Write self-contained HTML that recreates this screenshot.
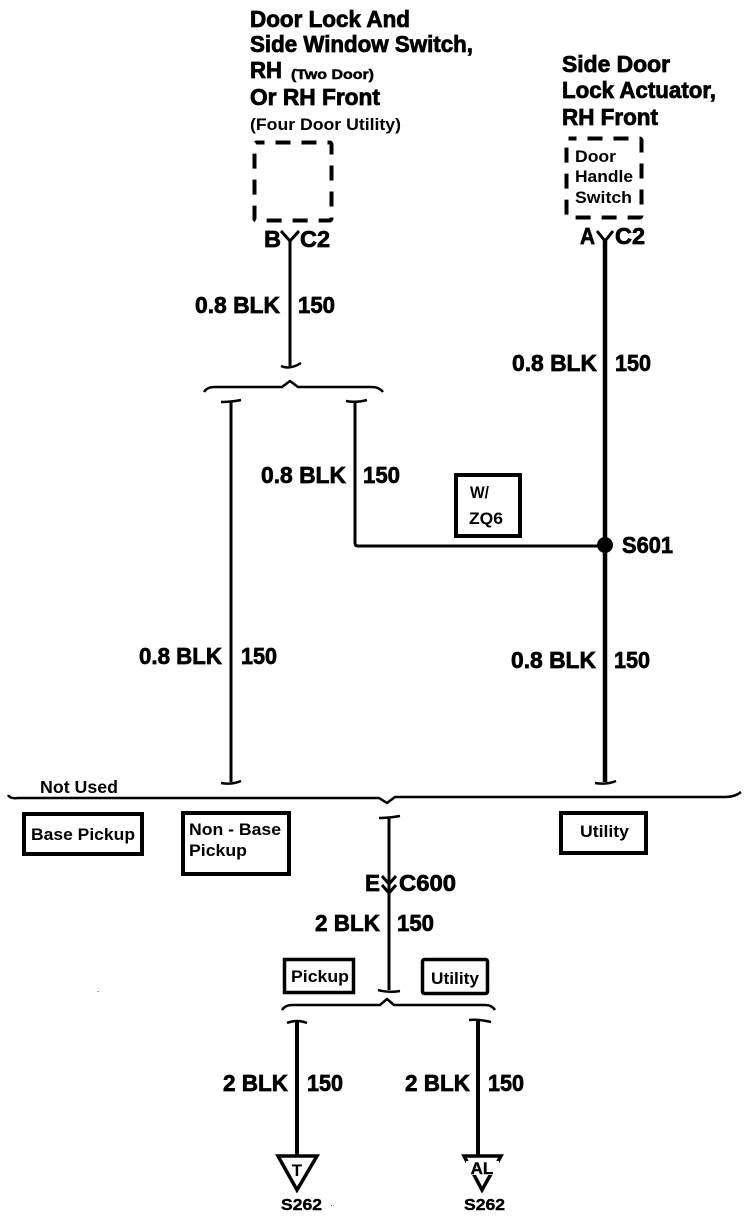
<!DOCTYPE html>
<html>
<head>
<meta charset="utf-8">
<style>
html,body{margin:0;padding:0;background:#fff;width:748px;height:1216px;overflow:hidden}
svg{display:block}
text{font-family:"Liberation Sans",sans-serif;font-weight:bold;fill:#000}
.h{font-size:23px;stroke:#000;stroke-width:.8px}
.l{font-size:23px;stroke:#000;stroke-width:.7px}
.s{font-size:16.500px}
.w{fill:none;stroke:#000;stroke-linecap:butt;stroke-linejoin:round}
</style>
</head>
<body>
<svg width="748" height="1216" viewBox="0 0 748 1216" xmlns="http://www.w3.org/2000/svg">
<!-- Header left -->
<text class="h" x="250" y="27" textLength="160" lengthAdjust="spacingAndGlyphs">Door Lock And</text>
<text class="h" x="250" y="52" textLength="223" lengthAdjust="spacingAndGlyphs">Side Window Switch,</text>
<text class="h" x="250" y="78" textLength="32" lengthAdjust="spacingAndGlyphs">RH</text>
<text x="291" y="79" font-size="14" stroke="#000" stroke-width=".5" textLength="83" lengthAdjust="spacingAndGlyphs">(Two Door)</text>
<text class="h" x="250" y="105" textLength="130" lengthAdjust="spacingAndGlyphs">Or RH Front</text>
<text class="s" x="250" y="130" textLength="151" lengthAdjust="spacingAndGlyphs">(Four Door Utility)</text>
<rect x="254.500" y="142.500" width="77" height="78" rx="2" fill="none" stroke="#000" stroke-width="4" stroke-dasharray="15 11" stroke-dashoffset="7"/>
<text class="l" x="264" y="247" textLength="17" lengthAdjust="spacingAndGlyphs">B</text>
<text class="l" x="300" y="247" textLength="30" lengthAdjust="spacingAndGlyphs">C2</text>
<path class="w" stroke-width="3" d="M281 231L290 241L299 231"/>
<path class="w" stroke-width="3" d="M290 240V366"/>
<path class="w" stroke-width="2.500" d="M281 366Q290 370 301 363"/>

<!-- Header right -->
<text class="h" x="562" y="72" textLength="108" lengthAdjust="spacingAndGlyphs">Side Door</text>
<text class="h" x="562" y="98" textLength="154" lengthAdjust="spacingAndGlyphs">Lock Actuator,</text>
<text class="h" x="562" y="125" textLength="96" lengthAdjust="spacingAndGlyphs">RH Front</text>
<rect x="566.500" y="138.500" width="75" height="79" rx="2" fill="none" stroke="#000" stroke-width="4" stroke-dasharray="15 11" stroke-dashoffset="7"/>
<text class="s" x="575" y="162" textLength="41" lengthAdjust="spacingAndGlyphs">Door</text>
<text class="s" x="575" y="182" textLength="58" lengthAdjust="spacingAndGlyphs">Handle</text>
<text class="s" x="575" y="203" textLength="57" lengthAdjust="spacingAndGlyphs">Switch</text>
<text class="l" x="580" y="244" textLength="15" lengthAdjust="spacingAndGlyphs">A</text>
<text class="l" x="615" y="244" textLength="30" lengthAdjust="spacingAndGlyphs">C2</text>
<path class="w" stroke-width="3" d="M597 231L605 241L613 231"/>
<path class="w" stroke-width="4.500" d="M605 240V782"/>
<path class="w" stroke-width="2.500" d="M595 783Q606 785 616 781"/>

<!-- Wire labels -->
<text class="l" x="195" y="313" textLength="85" lengthAdjust="spacingAndGlyphs">0.8 BLK</text>
<text class="l" x="298" y="313" textLength="37" lengthAdjust="spacingAndGlyphs">150</text>
<text class="l" x="512" y="371" textLength="85" lengthAdjust="spacingAndGlyphs">0.8 BLK</text>
<text class="l" x="615" y="371" textLength="36" lengthAdjust="spacingAndGlyphs">150</text>
<text class="l" x="261" y="483" textLength="85" lengthAdjust="spacingAndGlyphs">0.8 BLK</text>
<text class="l" x="363" y="483" textLength="37" lengthAdjust="spacingAndGlyphs">150</text>
<text class="l" x="139" y="664" textLength="83" lengthAdjust="spacingAndGlyphs">0.8 BLK</text>
<text class="l" x="241" y="664" textLength="36" lengthAdjust="spacingAndGlyphs">150</text>
<text class="l" x="511" y="668" textLength="85" lengthAdjust="spacingAndGlyphs">0.8 BLK</text>
<text class="l" x="614" y="668" textLength="36" lengthAdjust="spacingAndGlyphs">150</text>

<!-- Upper brace -->
<path class="w" stroke-width="2.500" d="M204 392Q207 387 214 387H282L290 381L298 387H372Q379 387 383 392"/>
<path class="w" stroke-width="2.500" d="M221 402Q231 402 241 400"/>
<path class="w" stroke-width="3" d="M231 401V782"/>
<path class="w" stroke-width="2.500" d="M221 783Q231 785 241 781"/>
<path class="w" stroke-width="2.500" d="M346 401Q356 403 367 400"/>
<path class="w" stroke-width="3" d="M355 401V543Q355 546 358 546H605"/>

<!-- W/ ZQ6 -->
<rect x="456" y="475" width="64" height="61" fill="none" stroke="#000" stroke-width="4"/>
<text class="s" x="470" y="498" textLength="19" lengthAdjust="spacingAndGlyphs">W/</text>
<text class="s" x="469" y="524" textLength="34" lengthAdjust="spacingAndGlyphs">ZQ6</text>
<circle cx="605" cy="545" r="8"/>
<text class="l" x="622" y="553" textLength="51" lengthAdjust="spacingAndGlyphs">S601</text>

<!-- Lower brace -->
<text x="40" y="793" font-size="17.500" textLength="78" lengthAdjust="spacingAndGlyphs">Not Used</text>
<path class="w" stroke-width="2.500" d="M8 795Q10 799 18 798H379L387 803L395 797H725Q735 797 741 792"/>

<rect x="24" y="814" width="118" height="40" fill="none" stroke="#000" stroke-width="4"/>
<text x="31" y="840" font-size="17" textLength="104" lengthAdjust="spacingAndGlyphs">Base Pickup</text>
<rect x="183" y="813" width="106" height="61" fill="none" stroke="#000" stroke-width="4"/>
<text x="189" y="835" font-size="17" textLength="92" lengthAdjust="spacingAndGlyphs">Non - Base</text>
<text x="189" y="856" font-size="17" textLength="58" lengthAdjust="spacingAndGlyphs">Pickup</text>
<rect x="561" y="813" width="85" height="40" fill="none" stroke="#000" stroke-width="4"/>
<text x="580" y="837" font-size="17" textLength="49" lengthAdjust="spacingAndGlyphs">Utility</text>

<!-- C600 -->
<path class="w" stroke-width="2.500" d="M379 818Q389 818 400 816"/>
<path class="w" stroke-width="3" d="M389 817V990"/>
<path class="w" stroke-width="3" d="M382 876L389 884L396 876"/>
<path class="w" stroke-width="3" d="M382 885L389 893L396 885"/>
<text class="l" x="365" y="891" textLength="15" lengthAdjust="spacingAndGlyphs">E</text>
<text class="l" x="399" y="891" textLength="57" lengthAdjust="spacingAndGlyphs">C600</text>
<text class="l" x="315" y="931" textLength="65" lengthAdjust="spacingAndGlyphs">2 BLK</text>
<text class="l" x="397" y="931" textLength="37" lengthAdjust="spacingAndGlyphs">150</text>

<rect x="284.500" y="959.500" width="69" height="33" fill="none" stroke="#000" stroke-width="3.500"/>
<text x="291" y="982" font-size="17" textLength="58" lengthAdjust="spacingAndGlyphs">Pickup</text>
<rect x="422.500" y="959.500" width="65" height="34" rx="2" fill="none" stroke="#000" stroke-width="3.500"/>
<text x="431" y="984" font-size="17" textLength="48" lengthAdjust="spacingAndGlyphs">Utility</text>

<path class="w" stroke-width="2.500" d="M378 990Q389 993 400 991"/>
<path class="w" stroke-width="2.500" d="M282 1010Q285 1005 292 1005H380L387 999L394 1005H485Q492 1005 495 1010"/>

<!-- Bottom wires -->
<path class="w" stroke-width="2.500" d="M287 1023Q297 1019 307 1023"/>
<path class="w" stroke-width="4" d="M297 1022V1156"/>
<path class="w" stroke-width="2.500" d="M469 1020Q478 1019 491 1022"/>
<path class="w" stroke-width="4" d="M478 1020V1156"/>
<text class="l" x="223" y="1091" textLength="65" lengthAdjust="spacingAndGlyphs">2 BLK</text>
<text class="l" x="307" y="1091" textLength="36" lengthAdjust="spacingAndGlyphs">150</text>
<text class="l" x="405" y="1091" textLength="65" lengthAdjust="spacingAndGlyphs">2 BLK</text>
<text class="l" x="488" y="1091" textLength="36" lengthAdjust="spacingAndGlyphs">150</text>

<!-- Grounds -->
<path d="M278 1156H317L297 1190Z" fill="none" stroke="#000" stroke-width="3.500"/>
<text x="297" y="1176" font-size="17" text-anchor="middle">T</text>
<path d="M464 1156H501L482 1190Z" fill="none" stroke="#000" stroke-width="3.500"/>
<rect x="466" y="1161" width="33" height="14" fill="#fff"/>
<text x="482" y="1174" font-size="17" text-anchor="middle" stroke="#000" stroke-width=".4">AL</text>
<text x="281" y="1210" font-size="16" stroke="#000" stroke-width=".4" textLength="41" lengthAdjust="spacingAndGlyphs">S262</text>
<text x="464" y="1210" font-size="16" stroke="#000" stroke-width=".4" textLength="41" lengthAdjust="spacingAndGlyphs">S262</text>
<rect x="97.500" y="991" width="1" height="1" fill="#444"/>
<rect x="331" y="1205" width="1" height="1" fill="#444"/>
</svg>
</body>
</html>
